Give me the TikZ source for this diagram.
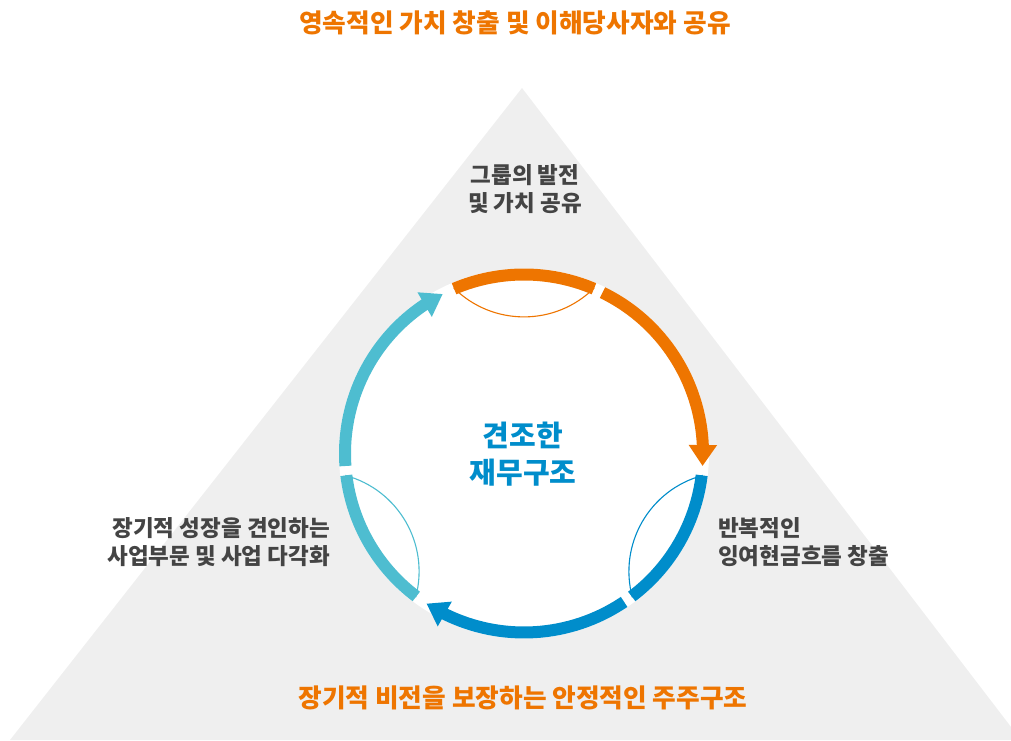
\documentclass[tikz,border=0pt]{standalone}
\usepackage{fontspec}
\newfontfamily\kr{Noto Sans CJK KR}
\usetikzlibrary{arrows.meta,bending}
\definecolor{ringO}{HTML}{EE7500}
\definecolor{ringB}{HTML}{008DCB}
\definecolor{ringT}{HTML}{4EBDD0}
\definecolor{triG}{HTML}{EFEFEF}
\definecolor{txtG}{HTML}{444444}

\begin{document}
\begin{tikzpicture}[x=1pt,y=1pt,band/.style={line width=12pt},bandtip/.style={band,-{Triangle[width=27pt,length=21pt]}},lens/.style={line width=1.1pt,bend right=45},headline/.style={inner sep=0pt,text=ringO,font=\kr\bfseries\fontsize{25.7}{30}\selectfont},lbl/.style={inner sep=0pt,text=txtG,font=\kr\bfseries\fontsize{22.5}{28.5}\selectfont},corelbl/.style={inner sep=0pt,align=center,text=ringB,font=\kr\bfseries\fontsize{29}{37}\selectfont}]
\def\rr{179};
\def\rl{180};

\useasboundingbox (0,0) rectangle (1011,740);
\fill[triG] (522,652) -- (10,0) -- (1021,0) -- cycle;

\coordinate (c) at (524,286.5);
\fill[white] (c) circle (185);

% orange: top
\draw[band,ringO] ([shift={(113:\rr)}]c) arc (113:67:\rr);
\draw[bandtip,ringO] ([shift={(64:\rr)}]c) arc (64:-4:\rr);
\draw[lens,ringO] ([shift={(113:\rl)}]c) to ([shift={(67:\rl)}]c);

% blue: lower right
\draw[band,ringB] ([shift={(-7:\rr)}]c) arc (-7:-53:\rr);
\draw[bandtip,ringB] ([shift={(-56:\rr)}]c) arc (-56:-123:\rr);
\draw[lens,ringB] ([shift={(-7:\rl)}]c) to ([shift={(-53:\rl)}]c);

% teal: lower left
\draw[band,ringT] ([shift={(233:\rr)}]c) arc (233:187:\rr);
\draw[bandtip,ringT] ([shift={(184:\rr)}]c) arc (184:117:\rr);
\draw[lens,ringT] ([shift={(233:\rl)}]c) to ([shift={(187:\rl)}]c);

\node[headline] (goal) at (515,717) {영속적인 가치 창출 및 이해당사자와 공유};
\node[headline] (holder) at (523,42) {장기적 비전을 보장하는 안정적인 주주구조};

\node[lbl,align=center] (grp) at (525,551) {그룹의 발전\\및 가치 공유};
\node[lbl,align=left,anchor=west] (cash) at (718,198) {반복적인\\잉여현금흐름 창출};
\node[lbl,align=right,anchor=east] (biz) at (330,198) {장기적 성장을 견인하는\\사업부문 및 사업 다각화};

\node[corelbl] (core) at (523,286) {견조한\\재무구조};

\end{tikzpicture}
\end{document}
